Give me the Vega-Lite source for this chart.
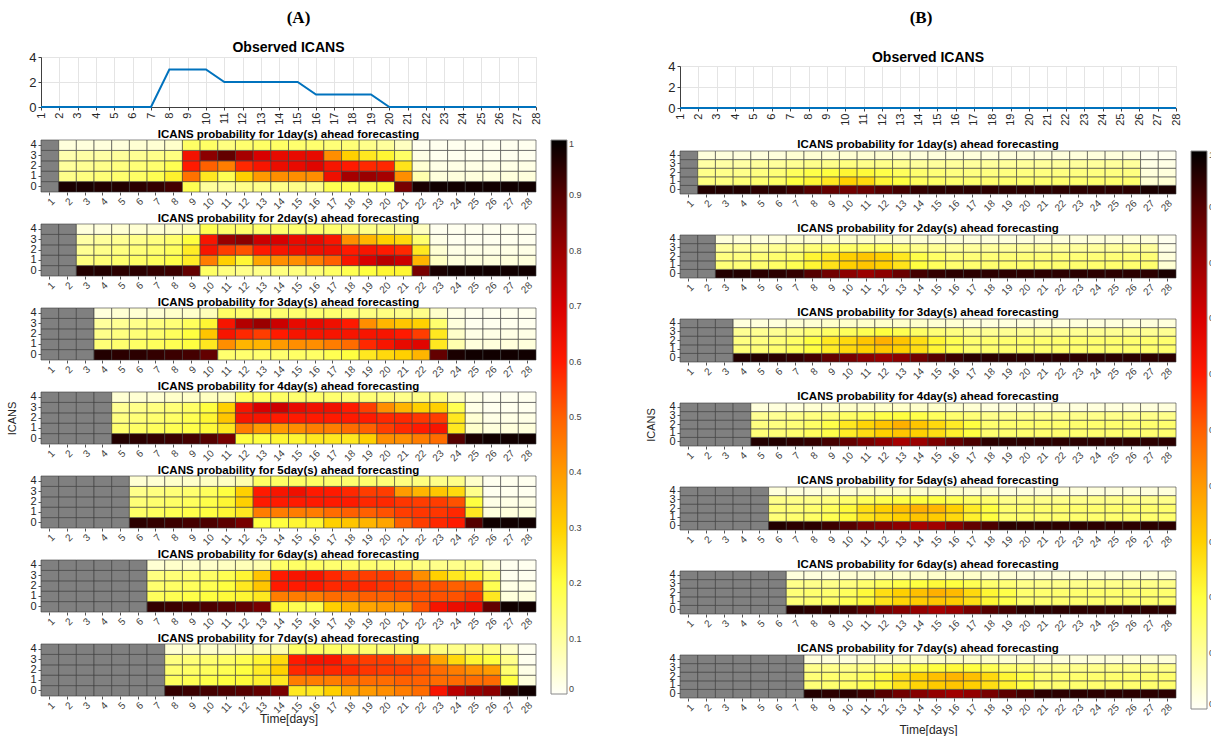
{
"$schema":"https://vega.github.io/schema/vega-lite/v6.json",
"background":"white",
"padding":{"left":6,"top":9,"right":0,"bottom":0},
"config":{"font":"Liberation Sans","view":{"stroke":null},
"title":{"fontSize":11.5,"fontWeight":"bold","color":"#000","offset":-2},
"rect":{"stroke":"#3a3a3a","strokeWidth":0.6},
"axisXBand":{"labelAngle":-45,"labelFontSize":10,"labelColor":"#444","tickSize":3,"tickColor":"#555","domain":false,"labelOverlap":false,"labelPadding":1,"titleFontWeight":"normal","titleFontSize":12,"titleColor":"#262626","titlePadding":1},
"axisYBand":{"labelAngle":0,"labelFontSize":11,"labelColor":"#262626","tickSize":3,"tickColor":"#555","domain":false,"labelOverlap":false,"labelPadding":2,"titleFontWeight":"normal","titleFontSize":11,"titleColor":"#262626","titlePadding":12},
"axisQuantitative":{"grid":true,"gridColor":"#e4e4e4","tickSize":3,"labelPadding":2,"labelColor":"#262626","domainColor":"#404040","tickColor":"#404040","title":null},
"legend":{"gradientThickness":16,"labelFontSize":9,"labelColor":"#444","gradientStrokeColor":"#888","gradientStrokeWidth":1,"offset":14,"padding":0}
},
"datasets":{
"obsA":[{"d":1,"v":0},{"d":2,"v":0},{"d":3,"v":0},{"d":4,"v":0},{"d":5,"v":0},{"d":6,"v":0},{"d":7,"v":0},{"d":8,"v":3},{"d":9,"v":3},{"d":10,"v":3},{"d":11,"v":2},{"d":12,"v":2},{"d":13,"v":2},{"d":14,"v":2},{"d":15,"v":2},{"d":16,"v":1},{"d":17,"v":1},{"d":18,"v":1},{"d":19,"v":1},{"d":20,"v":0},{"d":21,"v":0},{"d":22,"v":0},{"d":23,"v":0},{"d":24,"v":0},{"d":25,"v":0},{"d":26,"v":0},{"d":27,"v":0},{"d":28,"v":0}],
"obsB":[{"d":1,"v":0},{"d":2,"v":0},{"d":3,"v":0},{"d":4,"v":0},{"d":5,"v":0},{"d":6,"v":0},{"d":7,"v":0},{"d":8,"v":0},{"d":9,"v":0},{"d":10,"v":0},{"d":11,"v":0},{"d":12,"v":0},{"d":13,"v":0},{"d":14,"v":0},{"d":15,"v":0},{"d":16,"v":0},{"d":17,"v":0},{"d":18,"v":0},{"d":19,"v":0},{"d":20,"v":0},{"d":21,"v":0},{"d":22,"v":0},{"d":23,"v":0},{"d":24,"v":0},{"d":25,"v":0},{"d":26,"v":0},{"d":27,"v":0},{"d":28,"v":0}],
"pA":[
{"h":1,"d":1},
{"h":1,"d":2,"0":0.97,"1":0.12,"2":0.10,"3":0.08,"4":0.03},
{"h":1,"d":3,"0":0.97,"1":0.13,"2":0.11,"3":0.09,"4":0.03},
{"h":1,"d":4,"0":0.96,"1":0.14,"2":0.12,"3":0.09,"4":0.03},
{"h":1,"d":5,"0":0.96,"1":0.15,"2":0.13,"3":0.10,"4":0.03},
{"h":1,"d":6,"0":0.95,"1":0.16,"2":0.14,"3":0.11,"4":0.04},
{"h":1,"d":7,"0":0.94,"1":0.18,"2":0.15,"3":0.12,"4":0.04},
{"h":1,"d":8,"0":0.92,"1":0.23,"2":0.18,"3":0.13,"4":0.05},
{"h":1,"d":9,"0":0.18,"1":0.47,"2":0.60,"3":0.63,"4":0.16},
{"h":1,"d":10,"0":0.10,"1":0.25,"2":0.50,"3":0.82,"4":0.16},
{"h":1,"d":11,"0":0.10,"1":0.18,"2":0.45,"3":0.88,"4":0.13},
{"h":1,"d":12,"0":0.12,"1":0.30,"2":0.58,"3":0.78,"4":0.15},
{"h":1,"d":13,"0":0.12,"1":0.40,"2":0.62,"3":0.70,"4":0.16},
{"h":1,"d":14,"0":0.12,"1":0.42,"2":0.65,"3":0.66,"4":0.16},
{"h":1,"d":15,"0":0.12,"1":0.42,"2":0.66,"3":0.66,"4":0.15},
{"h":1,"d":16,"0":0.12,"1":0.42,"2":0.68,"3":0.66,"4":0.15},
{"h":1,"d":17,"0":0.18,"1":0.64,"2":0.62,"3":0.42,"4":0.14},
{"h":1,"d":18,"0":0.18,"1":0.78,"2":0.60,"3":0.30,"4":0.14},
{"h":1,"d":19,"0":0.18,"1":0.80,"2":0.58,"3":0.25,"4":0.12},
{"h":1,"d":20,"0":0.20,"1":0.78,"2":0.58,"3":0.22,"4":0.10},
{"h":1,"d":21,"0":0.85,"1":0.42,"2":0.26,"3":0.16,"4":0.06},
{"h":1,"d":22,"0":0.97,"1":0.08,"2":0.04,"3":0.02,"4":0.01},
{"h":1,"d":23,"0":0.98,"1":0.03,"2":0.02,"3":0.01,"4":0.01},
{"h":1,"d":24,"0":0.98,"1":0.03,"2":0.02,"3":0.01,"4":0.01},
{"h":1,"d":25,"0":0.98,"1":0.03,"2":0.02,"3":0.01,"4":0.01},
{"h":1,"d":26,"0":0.98,"1":0.03,"2":0.02,"3":0.01,"4":0.01},
{"h":1,"d":27,"0":0.98,"1":0.03,"2":0.02,"3":0.01,"4":0.01},
{"h":1,"d":28,"0":0.98,"1":0.03,"2":0.02,"3":0.01,"4":0.01},
{"h":2,"d":1},{"h":2,"d":2},
{"h":2,"d":3,"0":0.96,"1":0.13,"2":0.11,"3":0.09,"4":0.03},
{"h":2,"d":4,"0":0.96,"1":0.14,"2":0.12,"3":0.10,"4":0.03},
{"h":2,"d":5,"0":0.95,"1":0.15,"2":0.13,"3":0.11,"4":0.04},
{"h":2,"d":6,"0":0.95,"1":0.16,"2":0.14,"3":0.12,"4":0.04},
{"h":2,"d":7,"0":0.94,"1":0.17,"2":0.15,"3":0.13,"4":0.04},
{"h":2,"d":8,"0":0.93,"1":0.19,"2":0.17,"3":0.15,"4":0.05},
{"h":2,"d":9,"0":0.88,"1":0.24,"2":0.24,"3":0.20,"4":0.06},
{"h":2,"d":10,"0":0.16,"1":0.45,"2":0.62,"3":0.62,"4":0.18},
{"h":2,"d":11,"0":0.13,"1":0.30,"2":0.55,"3":0.80,"4":0.15},
{"h":2,"d":12,"0":0.12,"1":0.22,"2":0.52,"3":0.82,"4":0.15},
{"h":2,"d":13,"0":0.12,"1":0.38,"2":0.60,"3":0.72,"4":0.15},
{"h":2,"d":14,"0":0.13,"1":0.42,"2":0.62,"3":0.70,"4":0.15},
{"h":2,"d":15,"0":0.13,"1":0.42,"2":0.64,"3":0.66,"4":0.15},
{"h":2,"d":16,"0":0.14,"1":0.45,"2":0.64,"3":0.66,"4":0.15},
{"h":2,"d":17,"0":0.16,"1":0.50,"2":0.64,"3":0.62,"4":0.15},
{"h":2,"d":18,"0":0.18,"1":0.62,"2":0.60,"3":0.42,"4":0.13},
{"h":2,"d":19,"0":0.20,"1":0.70,"2":0.62,"3":0.35,"4":0.12},
{"h":2,"d":20,"0":0.22,"1":0.75,"2":0.60,"3":0.30,"4":0.12},
{"h":2,"d":21,"0":0.22,"1":0.72,"2":0.58,"3":0.28,"4":0.10},
{"h":2,"d":22,"0":0.85,"1":0.35,"2":0.25,"3":0.15,"4":0.06},
{"h":2,"d":23,"0":0.97,"1":0.06,"2":0.04,"3":0.02,"4":0.01},
{"h":2,"d":24,"0":0.98,"1":0.03,"2":0.02,"3":0.01,"4":0.01},
{"h":2,"d":25,"0":0.98,"1":0.03,"2":0.02,"3":0.01,"4":0.01},
{"h":2,"d":26,"0":0.98,"1":0.03,"2":0.02,"3":0.01,"4":0.01},
{"h":2,"d":27,"0":0.98,"1":0.03,"2":0.02,"3":0.01,"4":0.01},
{"h":2,"d":28,"0":0.98,"1":0.03,"2":0.02,"3":0.01,"4":0.01},
{"h":3,"d":1},{"h":3,"d":2},{"h":3,"d":3},
{"h":3,"d":4,"0":0.96,"1":0.14,"2":0.12,"3":0.10,"4":0.03},
{"h":3,"d":5,"0":0.95,"1":0.15,"2":0.13,"3":0.11,"4":0.04},
{"h":3,"d":6,"0":0.95,"1":0.16,"2":0.14,"3":0.12,"4":0.04},
{"h":3,"d":7,"0":0.94,"1":0.17,"2":0.15,"3":0.13,"4":0.04},
{"h":3,"d":8,"0":0.93,"1":0.18,"2":0.17,"3":0.14,"4":0.05},
{"h":3,"d":9,"0":0.92,"1":0.20,"2":0.20,"3":0.17,"4":0.05},
{"h":3,"d":10,"0":0.88,"1":0.25,"2":0.32,"3":0.22,"4":0.07},
{"h":3,"d":11,"0":0.15,"1":0.42,"2":0.62,"3":0.62,"4":0.16},
{"h":3,"d":12,"0":0.15,"1":0.35,"2":0.58,"3":0.76,"4":0.15},
{"h":3,"d":13,"0":0.15,"1":0.35,"2":0.55,"3":0.80,"4":0.15},
{"h":3,"d":14,"0":0.15,"1":0.40,"2":0.60,"3":0.72,"4":0.15},
{"h":3,"d":15,"0":0.16,"1":0.42,"2":0.62,"3":0.66,"4":0.15},
{"h":3,"d":16,"0":0.16,"1":0.42,"2":0.62,"3":0.66,"4":0.15},
{"h":3,"d":17,"0":0.18,"1":0.45,"2":0.62,"3":0.64,"4":0.15},
{"h":3,"d":18,"0":0.20,"1":0.48,"2":0.62,"3":0.60,"4":0.14},
{"h":3,"d":19,"0":0.25,"1":0.58,"2":0.62,"3":0.42,"4":0.13},
{"h":3,"d":20,"0":0.28,"1":0.62,"2":0.62,"3":0.35,"4":0.13},
{"h":3,"d":21,"0":0.30,"1":0.66,"2":0.60,"3":0.32,"4":0.12},
{"h":3,"d":22,"0":0.35,"1":0.68,"2":0.55,"3":0.30,"4":0.12},
{"h":3,"d":23,"0":0.88,"1":0.25,"2":0.25,"3":0.15,"4":0.05},
{"h":3,"d":24,"0":0.97,"1":0.08,"2":0.05,"3":0.03,"4":0.02},
{"h":3,"d":25,"0":0.98,"1":0.03,"2":0.02,"3":0.01,"4":0.01},
{"h":3,"d":26,"0":0.98,"1":0.03,"2":0.02,"3":0.01,"4":0.01},
{"h":3,"d":27,"0":0.98,"1":0.03,"2":0.02,"3":0.01,"4":0.01},
{"h":3,"d":28,"0":0.98,"1":0.03,"2":0.02,"3":0.01,"4":0.01},
{"h":4,"d":1},{"h":4,"d":2},{"h":4,"d":3},{"h":4,"d":4},
{"h":4,"d":5,"0":0.96,"1":0.15,"2":0.13,"3":0.11,"4":0.04},
{"h":4,"d":6,"0":0.95,"1":0.16,"2":0.14,"3":0.12,"4":0.04},
{"h":4,"d":7,"0":0.94,"1":0.17,"2":0.15,"3":0.13,"4":0.04},
{"h":4,"d":8,"0":0.93,"1":0.18,"2":0.16,"3":0.14,"4":0.05},
{"h":4,"d":9,"0":0.92,"1":0.19,"2":0.18,"3":0.16,"4":0.05},
{"h":4,"d":10,"0":0.90,"1":0.21,"2":0.22,"3":0.20,"4":0.06},
{"h":4,"d":11,"0":0.85,"1":0.25,"2":0.32,"3":0.30,"4":0.07},
{"h":4,"d":12,"0":0.20,"1":0.45,"2":0.62,"3":0.62,"4":0.16},
{"h":4,"d":13,"0":0.20,"1":0.40,"2":0.62,"3":0.70,"4":0.16},
{"h":4,"d":14,"0":0.22,"1":0.40,"2":0.60,"3":0.72,"4":0.16},
{"h":4,"d":15,"0":0.22,"1":0.42,"2":0.60,"3":0.66,"4":0.15},
{"h":4,"d":16,"0":0.25,"1":0.45,"2":0.60,"3":0.64,"4":0.15},
{"h":4,"d":17,"0":0.25,"1":0.45,"2":0.60,"3":0.64,"4":0.15},
{"h":4,"d":18,"0":0.25,"1":0.48,"2":0.60,"3":0.60,"4":0.14},
{"h":4,"d":19,"0":0.30,"1":0.50,"2":0.60,"3":0.55,"4":0.14},
{"h":4,"d":20,"0":0.42,"1":0.55,"2":0.58,"3":0.42,"4":0.13},
{"h":4,"d":21,"0":0.42,"1":0.58,"2":0.58,"3":0.35,"4":0.12},
{"h":4,"d":22,"0":0.45,"1":0.60,"2":0.56,"3":0.30,"4":0.12},
{"h":4,"d":23,"0":0.48,"1":0.62,"2":0.55,"3":0.30,"4":0.12},
{"h":4,"d":24,"0":0.90,"1":0.25,"2":0.25,"3":0.18,"4":0.05},
{"h":4,"d":25,"0":0.97,"1":0.05,"2":0.04,"3":0.02,"4":0.02},
{"h":4,"d":26,"0":0.98,"1":0.03,"2":0.02,"3":0.01,"4":0.01},
{"h":4,"d":27,"0":0.98,"1":0.03,"2":0.02,"3":0.01,"4":0.01},
{"h":4,"d":28,"0":0.98,"1":0.03,"2":0.02,"3":0.01,"4":0.01},
{"h":5,"d":1},{"h":5,"d":2},{"h":5,"d":3},{"h":5,"d":4},{"h":5,"d":5},
{"h":5,"d":6,"0":0.95,"1":0.16,"2":0.14,"3":0.12,"4":0.04},
{"h":5,"d":7,"0":0.94,"1":0.17,"2":0.15,"3":0.13,"4":0.04},
{"h":5,"d":8,"0":0.93,"1":0.18,"2":0.16,"3":0.14,"4":0.05},
{"h":5,"d":9,"0":0.92,"1":0.19,"2":0.17,"3":0.15,"4":0.05},
{"h":5,"d":10,"0":0.91,"1":0.20,"2":0.19,"3":0.17,"4":0.06},
{"h":5,"d":11,"0":0.89,"1":0.22,"2":0.22,"3":0.20,"4":0.06},
{"h":5,"d":12,"0":0.85,"1":0.25,"2":0.30,"3":0.30,"4":0.08},
{"h":5,"d":13,"0":0.20,"1":0.45,"2":0.60,"3":0.60,"4":0.16},
{"h":5,"d":14,"0":0.20,"1":0.45,"2":0.60,"3":0.62,"4":0.16},
{"h":5,"d":15,"0":0.22,"1":0.45,"2":0.60,"3":0.64,"4":0.16},
{"h":5,"d":16,"0":0.22,"1":0.45,"2":0.60,"3":0.60,"4":0.16},
{"h":5,"d":17,"0":0.30,"1":0.48,"2":0.60,"3":0.60,"4":0.15},
{"h":5,"d":18,"0":0.32,"1":0.50,"2":0.60,"3":0.58,"4":0.15},
{"h":5,"d":19,"0":0.35,"1":0.50,"2":0.58,"3":0.55,"4":0.15},
{"h":5,"d":20,"0":0.38,"1":0.52,"2":0.58,"3":0.55,"4":0.14},
{"h":5,"d":21,"0":0.50,"1":0.55,"2":0.56,"3":0.40,"4":0.13},
{"h":5,"d":22,"0":0.55,"1":0.56,"2":0.55,"3":0.35,"4":0.13},
{"h":5,"d":23,"0":0.58,"1":0.56,"2":0.55,"3":0.32,"4":0.12},
{"h":5,"d":24,"0":0.60,"1":0.58,"2":0.52,"3":0.28,"4":0.12},
{"h":5,"d":25,"0":0.90,"1":0.25,"2":0.20,"3":0.12,"4":0.05},
{"h":5,"d":26,"0":0.98,"1":0.03,"2":0.02,"3":0.01,"4":0.01},
{"h":5,"d":27,"0":0.98,"1":0.03,"2":0.02,"3":0.01,"4":0.01},
{"h":5,"d":28,"0":0.98,"1":0.03,"2":0.02,"3":0.01,"4":0.01},
{"h":6,"d":1},{"h":6,"d":2},{"h":6,"d":3},{"h":6,"d":4},{"h":6,"d":5},{"h":6,"d":6},
{"h":6,"d":7,"0":0.94,"1":0.17,"2":0.15,"3":0.13,"4":0.04},
{"h":6,"d":8,"0":0.93,"1":0.18,"2":0.16,"3":0.14,"4":0.05},
{"h":6,"d":9,"0":0.92,"1":0.19,"2":0.17,"3":0.15,"4":0.05},
{"h":6,"d":10,"0":0.91,"1":0.20,"2":0.18,"3":0.16,"4":0.05},
{"h":6,"d":11,"0":0.90,"1":0.21,"2":0.20,"3":0.18,"4":0.06},
{"h":6,"d":12,"0":0.88,"1":0.22,"2":0.25,"3":0.22,"4":0.07},
{"h":6,"d":13,"0":0.85,"1":0.25,"2":0.32,"3":0.32,"4":0.08},
{"h":6,"d":14,"0":0.22,"1":0.45,"2":0.60,"3":0.60,"4":0.16},
{"h":6,"d":15,"0":0.18,"1":0.45,"2":0.60,"3":0.62,"4":0.16},
{"h":6,"d":16,"0":0.18,"1":0.45,"2":0.60,"3":0.62,"4":0.16},
{"h":6,"d":17,"0":0.30,"1":0.48,"2":0.58,"3":0.58,"4":0.15},
{"h":6,"d":18,"0":0.35,"1":0.48,"2":0.58,"3":0.55,"4":0.15},
{"h":6,"d":19,"0":0.38,"1":0.50,"2":0.58,"3":0.55,"4":0.15},
{"h":6,"d":20,"0":0.40,"1":0.50,"2":0.56,"3":0.55,"4":0.14},
{"h":6,"d":21,"0":0.40,"1":0.52,"2":0.55,"3":0.52,"4":0.14},
{"h":6,"d":22,"0":0.52,"1":0.52,"2":0.52,"3":0.42,"4":0.13},
{"h":6,"d":23,"0":0.62,"1":0.52,"2":0.52,"3":0.30,"4":0.12},
{"h":6,"d":24,"0":0.65,"1":0.52,"2":0.50,"3":0.25,"4":0.12},
{"h":6,"d":25,"0":0.66,"1":0.55,"2":0.50,"3":0.22,"4":0.12},
{"h":6,"d":26,"0":0.88,"1":0.25,"2":0.18,"3":0.15,"4":0.05},
{"h":6,"d":27,"0":0.98,"1":0.03,"2":0.02,"3":0.01,"4":0.01},
{"h":6,"d":28,"0":0.98,"1":0.03,"2":0.02,"3":0.01,"4":0.01},
{"h":7,"d":1},{"h":7,"d":2},{"h":7,"d":3},{"h":7,"d":4},{"h":7,"d":5},{"h":7,"d":6},{"h":7,"d":7},
{"h":7,"d":8,"0":0.94,"1":0.17,"2":0.15,"3":0.13,"4":0.04},
{"h":7,"d":9,"0":0.93,"1":0.18,"2":0.16,"3":0.14,"4":0.05},
{"h":7,"d":10,"0":0.92,"1":0.19,"2":0.17,"3":0.15,"4":0.05},
{"h":7,"d":11,"0":0.91,"1":0.20,"2":0.18,"3":0.16,"4":0.05},
{"h":7,"d":12,"0":0.90,"1":0.21,"2":0.20,"3":0.18,"4":0.06},
{"h":7,"d":13,"0":0.88,"1":0.23,"2":0.24,"3":0.22,"4":0.07},
{"h":7,"d":14,"0":0.85,"1":0.25,"2":0.30,"3":0.28,"4":0.08},
{"h":7,"d":15,"0":0.25,"1":0.45,"2":0.58,"3":0.60,"4":0.16},
{"h":7,"d":16,"0":0.25,"1":0.45,"2":0.58,"3":0.62,"4":0.16},
{"h":7,"d":17,"0":0.30,"1":0.45,"2":0.58,"3":0.62,"4":0.16},
{"h":7,"d":18,"0":0.38,"1":0.48,"2":0.58,"3":0.56,"4":0.15},
{"h":7,"d":19,"0":0.40,"1":0.48,"2":0.56,"3":0.55,"4":0.15},
{"h":7,"d":20,"0":0.42,"1":0.48,"2":0.55,"3":0.55,"4":0.14},
{"h":7,"d":21,"0":0.45,"1":0.50,"2":0.55,"3":0.52,"4":0.14},
{"h":7,"d":22,"0":0.48,"1":0.50,"2":0.52,"3":0.52,"4":0.14},
{"h":7,"d":23,"0":0.62,"1":0.48,"2":0.48,"3":0.38,"4":0.13},
{"h":7,"d":24,"0":0.75,"1":0.48,"2":0.45,"3":0.28,"4":0.12},
{"h":7,"d":25,"0":0.80,"1":0.48,"2":0.42,"3":0.22,"4":0.12},
{"h":7,"d":26,"0":0.82,"1":0.48,"2":0.40,"3":0.20,"4":0.12},
{"h":7,"d":27,"0":0.95,"1":0.20,"2":0.15,"3":0.12,"4":0.05},
{"h":7,"d":28,"0":0.98,"1":0.03,"2":0.02,"3":0.01,"4":0.01}
],
"pB":[
{"h":1,"d":1},
{"h":1,"d":2,"0":0.96,"1":0.13,"2":0.12,"3":0.09,"4":0.03},
{"h":1,"d":3,"0":0.96,"1":0.13,"2":0.12,"3":0.09,"4":0.03},
{"h":1,"d":4,"0":0.96,"1":0.14,"2":0.12,"3":0.09,"4":0.03},
{"h":1,"d":5,"0":0.95,"1":0.15,"2":0.13,"3":0.10,"4":0.03},
{"h":1,"d":6,"0":0.95,"1":0.16,"2":0.14,"3":0.10,"4":0.03},
{"h":1,"d":7,"0":0.93,"1":0.20,"2":0.17,"3":0.11,"4":0.04},
{"h":1,"d":8,"0":0.90,"1":0.22,"2":0.19,"3":0.12,"4":0.04},
{"h":1,"d":9,"0":0.88,"1":0.25,"2":0.20,"3":0.12,"4":0.04},
{"h":1,"d":10,"0":0.86,"1":0.30,"2":0.22,"3":0.13,"4":0.04},
{"h":1,"d":11,"0":0.87,"1":0.28,"2":0.21,"3":0.12,"4":0.04},
{"h":1,"d":12,"0":0.90,"1":0.22,"2":0.19,"3":0.12,"4":0.04},
{"h":1,"d":13,"0":0.92,"1":0.20,"2":0.17,"3":0.11,"4":0.04},
{"h":1,"d":14,"0":0.94,"1":0.17,"2":0.15,"3":0.10,"4":0.03},
{"h":1,"d":15,"0":0.95,"1":0.16,"2":0.14,"3":0.10,"4":0.03},
{"h":1,"d":16,"0":0.95,"1":0.15,"2":0.13,"3":0.10,"4":0.03},
{"h":1,"d":17,"0":0.95,"1":0.15,"2":0.13,"3":0.10,"4":0.03},
{"h":1,"d":18,"0":0.95,"1":0.15,"2":0.13,"3":0.10,"4":0.03},
{"h":1,"d":19,"0":0.95,"1":0.15,"2":0.13,"3":0.10,"4":0.03},
{"h":1,"d":20,"0":0.95,"1":0.15,"2":0.13,"3":0.10,"4":0.03},
{"h":1,"d":21,"0":0.95,"1":0.15,"2":0.13,"3":0.10,"4":0.03},
{"h":1,"d":22,"0":0.95,"1":0.15,"2":0.13,"3":0.10,"4":0.03},
{"h":1,"d":23,"0":0.95,"1":0.15,"2":0.13,"3":0.10,"4":0.03},
{"h":1,"d":24,"0":0.95,"1":0.15,"2":0.13,"3":0.10,"4":0.03},
{"h":1,"d":25,"0":0.95,"1":0.15,"2":0.13,"3":0.10,"4":0.03},
{"h":1,"d":26,"0":0.95,"1":0.15,"2":0.13,"3":0.10,"4":0.03},
{"h":1,"d":27,"0":0.97,"1":0.04,"2":0.03,"3":0.02,"4":0.01},
{"h":1,"d":28,"0":0.97,"1":0.04,"2":0.03,"3":0.02,"4":0.01},
{"h":2,"d":1},{"h":2,"d":2},
{"h":2,"d":3,"0":0.96,"1":0.14,"2":0.13,"3":0.10,"4":0.03},
{"h":2,"d":4,"0":0.96,"1":0.14,"2":0.13,"3":0.10,"4":0.03},
{"h":2,"d":5,"0":0.95,"1":0.15,"2":0.14,"3":0.10,"4":0.03},
{"h":2,"d":6,"0":0.95,"1":0.16,"2":0.15,"3":0.11,"4":0.03},
{"h":2,"d":7,"0":0.94,"1":0.18,"2":0.16,"3":0.12,"4":0.04},
{"h":2,"d":8,"0":0.90,"1":0.22,"2":0.22,"3":0.14,"4":0.04},
{"h":2,"d":9,"0":0.86,"1":0.26,"2":0.25,"3":0.15,"4":0.04},
{"h":2,"d":10,"0":0.82,"1":0.30,"2":0.30,"3":0.16,"4":0.05},
{"h":2,"d":11,"0":0.80,"1":0.32,"2":0.32,"3":0.16,"4":0.05},
{"h":2,"d":12,"0":0.82,"1":0.30,"2":0.30,"3":0.16,"4":0.05},
{"h":2,"d":13,"0":0.87,"1":0.26,"2":0.25,"3":0.14,"4":0.04},
{"h":2,"d":14,"0":0.92,"1":0.20,"2":0.19,"3":0.12,"4":0.04},
{"h":2,"d":15,"0":0.94,"1":0.17,"2":0.16,"3":0.11,"4":0.03},
{"h":2,"d":16,"0":0.95,"1":0.15,"2":0.14,"3":0.10,"4":0.03},
{"h":2,"d":17,"0":0.95,"1":0.15,"2":0.14,"3":0.10,"4":0.03},
{"h":2,"d":18,"0":0.95,"1":0.15,"2":0.14,"3":0.10,"4":0.03},
{"h":2,"d":19,"0":0.95,"1":0.15,"2":0.14,"3":0.10,"4":0.03},
{"h":2,"d":20,"0":0.95,"1":0.15,"2":0.14,"3":0.10,"4":0.03},
{"h":2,"d":21,"0":0.95,"1":0.15,"2":0.14,"3":0.10,"4":0.03},
{"h":2,"d":22,"0":0.95,"1":0.15,"2":0.14,"3":0.10,"4":0.03},
{"h":2,"d":23,"0":0.95,"1":0.15,"2":0.14,"3":0.10,"4":0.03},
{"h":2,"d":24,"0":0.95,"1":0.15,"2":0.14,"3":0.10,"4":0.03},
{"h":2,"d":25,"0":0.95,"1":0.15,"2":0.14,"3":0.10,"4":0.03},
{"h":2,"d":26,"0":0.95,"1":0.15,"2":0.14,"3":0.10,"4":0.03},
{"h":2,"d":27,"0":0.95,"1":0.15,"2":0.14,"3":0.10,"4":0.03},
{"h":2,"d":28,"0":0.97,"1":0.04,"2":0.03,"3":0.02,"4":0.01},
{"h":3,"d":1},{"h":3,"d":2},{"h":3,"d":3},
{"h":3,"d":4,"0":0.96,"1":0.14,"2":0.13,"3":0.11,"4":0.03},
{"h":3,"d":5,"0":0.96,"1":0.14,"2":0.13,"3":0.11,"4":0.03},
{"h":3,"d":6,"0":0.95,"1":0.15,"2":0.14,"3":0.11,"4":0.03},
{"h":3,"d":7,"0":0.94,"1":0.17,"2":0.16,"3":0.12,"4":0.04},
{"h":3,"d":8,"0":0.92,"1":0.20,"2":0.20,"3":0.14,"4":0.04},
{"h":3,"d":9,"0":0.88,"1":0.24,"2":0.25,"3":0.16,"4":0.05},
{"h":3,"d":10,"0":0.85,"1":0.28,"2":0.28,"3":0.17,"4":0.05},
{"h":3,"d":11,"0":0.82,"1":0.30,"2":0.32,"3":0.18,"4":0.05},
{"h":3,"d":12,"0":0.80,"1":0.32,"2":0.36,"3":0.20,"4":0.05},
{"h":3,"d":13,"0":0.82,"1":0.30,"2":0.32,"3":0.18,"4":0.05},
{"h":3,"d":14,"0":0.86,"1":0.27,"2":0.27,"3":0.16,"4":0.05},
{"h":3,"d":15,"0":0.90,"1":0.22,"2":0.22,"3":0.14,"4":0.04},
{"h":3,"d":16,"0":0.93,"1":0.18,"2":0.18,"3":0.13,"4":0.04},
{"h":3,"d":17,"0":0.95,"1":0.15,"2":0.15,"3":0.11,"4":0.03},
{"h":3,"d":18,"0":0.95,"1":0.15,"2":0.15,"3":0.11,"4":0.03},
{"h":3,"d":19,"0":0.95,"1":0.15,"2":0.15,"3":0.11,"4":0.03},
{"h":3,"d":20,"0":0.95,"1":0.15,"2":0.15,"3":0.11,"4":0.03},
{"h":3,"d":21,"0":0.95,"1":0.15,"2":0.15,"3":0.11,"4":0.03},
{"h":3,"d":22,"0":0.95,"1":0.15,"2":0.15,"3":0.11,"4":0.03},
{"h":3,"d":23,"0":0.95,"1":0.15,"2":0.15,"3":0.11,"4":0.03},
{"h":3,"d":24,"0":0.95,"1":0.15,"2":0.15,"3":0.11,"4":0.03},
{"h":3,"d":25,"0":0.95,"1":0.15,"2":0.15,"3":0.11,"4":0.03},
{"h":3,"d":26,"0":0.95,"1":0.15,"2":0.15,"3":0.11,"4":0.03},
{"h":3,"d":27,"0":0.95,"1":0.15,"2":0.15,"3":0.11,"4":0.03},
{"h":3,"d":28,"0":0.95,"1":0.15,"2":0.15,"3":0.11,"4":0.03},
{"h":4,"d":1},{"h":4,"d":2},{"h":4,"d":3},{"h":4,"d":4},
{"h":4,"d":5,"0":0.96,"1":0.14,"2":0.13,"3":0.11,"4":0.03},
{"h":4,"d":6,"0":0.96,"1":0.14,"2":0.13,"3":0.11,"4":0.03},
{"h":4,"d":7,"0":0.95,"1":0.15,"2":0.14,"3":0.12,"4":0.03},
{"h":4,"d":8,"0":0.94,"1":0.17,"2":0.16,"3":0.13,"4":0.04},
{"h":4,"d":9,"0":0.92,"1":0.19,"2":0.19,"3":0.14,"4":0.04},
{"h":4,"d":10,"0":0.88,"1":0.24,"2":0.25,"3":0.16,"4":0.05},
{"h":4,"d":11,"0":0.85,"1":0.27,"2":0.29,"3":0.17,"4":0.05},
{"h":4,"d":12,"0":0.82,"1":0.30,"2":0.32,"3":0.19,"4":0.05},
{"h":4,"d":13,"0":0.78,"1":0.32,"2":0.36,"3":0.20,"4":0.05},
{"h":4,"d":14,"0":0.80,"1":0.30,"2":0.32,"3":0.19,"4":0.05},
{"h":4,"d":15,"0":0.84,"1":0.27,"2":0.28,"3":0.17,"4":0.05},
{"h":4,"d":16,"0":0.88,"1":0.23,"2":0.24,"3":0.15,"4":0.04},
{"h":4,"d":17,"0":0.91,"1":0.20,"2":0.20,"3":0.14,"4":0.04},
{"h":4,"d":18,"0":0.95,"1":0.15,"2":0.15,"3":0.12,"4":0.03},
{"h":4,"d":19,"0":0.95,"1":0.15,"2":0.15,"3":0.12,"4":0.03},
{"h":4,"d":20,"0":0.95,"1":0.15,"2":0.15,"3":0.12,"4":0.03},
{"h":4,"d":21,"0":0.95,"1":0.15,"2":0.15,"3":0.12,"4":0.03},
{"h":4,"d":22,"0":0.95,"1":0.15,"2":0.15,"3":0.12,"4":0.03},
{"h":4,"d":23,"0":0.95,"1":0.15,"2":0.15,"3":0.12,"4":0.03},
{"h":4,"d":24,"0":0.95,"1":0.15,"2":0.15,"3":0.12,"4":0.03},
{"h":4,"d":25,"0":0.95,"1":0.15,"2":0.15,"3":0.12,"4":0.03},
{"h":4,"d":26,"0":0.95,"1":0.15,"2":0.15,"3":0.12,"4":0.03},
{"h":4,"d":27,"0":0.95,"1":0.15,"2":0.15,"3":0.12,"4":0.03},
{"h":4,"d":28,"0":0.95,"1":0.15,"2":0.15,"3":0.12,"4":0.03},
{"h":5,"d":1},{"h":5,"d":2},{"h":5,"d":3},{"h":5,"d":4},{"h":5,"d":5},
{"h":5,"d":6,"0":0.96,"1":0.14,"2":0.14,"3":0.12,"4":0.03},
{"h":5,"d":7,"0":0.95,"1":0.15,"2":0.14,"3":0.12,"4":0.03},
{"h":5,"d":8,"0":0.95,"1":0.16,"2":0.15,"3":0.12,"4":0.03},
{"h":5,"d":9,"0":0.93,"1":0.18,"2":0.17,"3":0.13,"4":0.04},
{"h":5,"d":10,"0":0.90,"1":0.21,"2":0.21,"3":0.15,"4":0.04},
{"h":5,"d":11,"0":0.86,"1":0.26,"2":0.27,"3":0.17,"4":0.05},
{"h":5,"d":12,"0":0.84,"1":0.28,"2":0.30,"3":0.18,"4":0.05},
{"h":5,"d":13,"0":0.82,"1":0.30,"2":0.33,"3":0.19,"4":0.05},
{"h":5,"d":14,"0":0.78,"1":0.32,"2":0.36,"3":0.20,"4":0.05},
{"h":5,"d":15,"0":0.79,"1":0.31,"2":0.35,"3":0.20,"4":0.05},
{"h":5,"d":16,"0":0.83,"1":0.28,"2":0.30,"3":0.18,"4":0.05},
{"h":5,"d":17,"0":0.88,"1":0.23,"2":0.24,"3":0.16,"4":0.04},
{"h":5,"d":18,"0":0.91,"1":0.20,"2":0.20,"3":0.15,"4":0.04},
{"h":5,"d":19,"0":0.95,"1":0.15,"2":0.15,"3":0.12,"4":0.03},
{"h":5,"d":20,"0":0.95,"1":0.15,"2":0.15,"3":0.12,"4":0.03},
{"h":5,"d":21,"0":0.95,"1":0.15,"2":0.15,"3":0.12,"4":0.03},
{"h":5,"d":22,"0":0.95,"1":0.15,"2":0.15,"3":0.12,"4":0.03},
{"h":5,"d":23,"0":0.95,"1":0.15,"2":0.15,"3":0.12,"4":0.03},
{"h":5,"d":24,"0":0.95,"1":0.15,"2":0.15,"3":0.12,"4":0.03},
{"h":5,"d":25,"0":0.95,"1":0.15,"2":0.15,"3":0.12,"4":0.03},
{"h":5,"d":26,"0":0.95,"1":0.15,"2":0.15,"3":0.12,"4":0.03},
{"h":5,"d":27,"0":0.95,"1":0.15,"2":0.15,"3":0.12,"4":0.03},
{"h":5,"d":28,"0":0.95,"1":0.15,"2":0.15,"3":0.12,"4":0.03},
{"h":6,"d":1},{"h":6,"d":2},{"h":6,"d":3},{"h":6,"d":4},{"h":6,"d":5},{"h":6,"d":6},
{"h":6,"d":7,"0":0.96,"1":0.14,"2":0.14,"3":0.12,"4":0.03},
{"h":6,"d":8,"0":0.95,"1":0.15,"2":0.15,"3":0.12,"4":0.03},
{"h":6,"d":9,"0":0.95,"1":0.16,"2":0.15,"3":0.12,"4":0.03},
{"h":6,"d":10,"0":0.93,"1":0.18,"2":0.17,"3":0.13,"4":0.04},
{"h":6,"d":11,"0":0.90,"1":0.21,"2":0.21,"3":0.15,"4":0.04},
{"h":6,"d":12,"0":0.85,"1":0.26,"2":0.27,"3":0.17,"4":0.05},
{"h":6,"d":13,"0":0.83,"1":0.29,"2":0.30,"3":0.19,"4":0.05},
{"h":6,"d":14,"0":0.81,"1":0.31,"2":0.33,"3":0.20,"4":0.05},
{"h":6,"d":15,"0":0.78,"1":0.32,"2":0.36,"3":0.21,"4":0.05},
{"h":6,"d":16,"0":0.80,"1":0.31,"2":0.34,"3":0.20,"4":0.05},
{"h":6,"d":17,"0":0.85,"1":0.27,"2":0.28,"3":0.18,"4":0.05},
{"h":6,"d":18,"0":0.90,"1":0.22,"2":0.22,"3":0.15,"4":0.04},
{"h":6,"d":19,"0":0.92,"1":0.19,"2":0.19,"3":0.14,"4":0.04},
{"h":6,"d":20,"0":0.95,"1":0.15,"2":0.15,"3":0.12,"4":0.03},
{"h":6,"d":21,"0":0.95,"1":0.15,"2":0.15,"3":0.12,"4":0.03},
{"h":6,"d":22,"0":0.95,"1":0.15,"2":0.15,"3":0.12,"4":0.03},
{"h":6,"d":23,"0":0.95,"1":0.15,"2":0.15,"3":0.12,"4":0.03},
{"h":6,"d":24,"0":0.95,"1":0.15,"2":0.15,"3":0.12,"4":0.03},
{"h":6,"d":25,"0":0.95,"1":0.15,"2":0.15,"3":0.12,"4":0.03},
{"h":6,"d":26,"0":0.95,"1":0.15,"2":0.15,"3":0.12,"4":0.03},
{"h":6,"d":27,"0":0.95,"1":0.15,"2":0.15,"3":0.12,"4":0.03},
{"h":6,"d":28,"0":0.95,"1":0.15,"2":0.15,"3":0.12,"4":0.03},
{"h":7,"d":1},{"h":7,"d":2},{"h":7,"d":3},{"h":7,"d":4},{"h":7,"d":5},{"h":7,"d":6},{"h":7,"d":7},
{"h":7,"d":8,"0":0.96,"1":0.14,"2":0.14,"3":0.12,"4":0.03},
{"h":7,"d":9,"0":0.95,"1":0.15,"2":0.15,"3":0.12,"4":0.03},
{"h":7,"d":10,"0":0.95,"1":0.16,"2":0.15,"3":0.12,"4":0.03},
{"h":7,"d":11,"0":0.93,"1":0.18,"2":0.17,"3":0.13,"4":0.04},
{"h":7,"d":12,"0":0.90,"1":0.21,"2":0.21,"3":0.15,"4":0.04},
{"h":7,"d":13,"0":0.86,"1":0.26,"2":0.27,"3":0.17,"4":0.05},
{"h":7,"d":14,"0":0.83,"1":0.29,"2":0.30,"3":0.19,"4":0.05},
{"h":7,"d":15,"0":0.81,"1":0.31,"2":0.33,"3":0.20,"4":0.05},
{"h":7,"d":16,"0":0.79,"1":0.32,"2":0.35,"3":0.21,"4":0.05},
{"h":7,"d":17,"0":0.81,"1":0.30,"2":0.33,"3":0.20,"4":0.05},
{"h":7,"d":18,"0":0.85,"1":0.27,"2":0.28,"3":0.18,"4":0.05},
{"h":7,"d":19,"0":0.89,"1":0.23,"2":0.22,"3":0.15,"4":0.04},
{"h":7,"d":20,"0":0.92,"1":0.19,"2":0.19,"3":0.14,"4":0.04},
{"h":7,"d":21,"0":0.95,"1":0.15,"2":0.15,"3":0.12,"4":0.03},
{"h":7,"d":22,"0":0.95,"1":0.15,"2":0.15,"3":0.12,"4":0.03},
{"h":7,"d":23,"0":0.95,"1":0.15,"2":0.15,"3":0.12,"4":0.03},
{"h":7,"d":24,"0":0.95,"1":0.15,"2":0.15,"3":0.12,"4":0.03},
{"h":7,"d":25,"0":0.95,"1":0.15,"2":0.15,"3":0.12,"4":0.03},
{"h":7,"d":26,"0":0.95,"1":0.15,"2":0.15,"3":0.12,"4":0.03},
{"h":7,"d":27,"0":0.95,"1":0.15,"2":0.15,"3":0.12,"4":0.03},
{"h":7,"d":28,"0":0.95,"1":0.15,"2":0.15,"3":0.12,"4":0.03}
]
},
"hconcat":[
{
"spacing":4,
"vconcat":[
{"data":{"values":[]},"mark":"point","width":495,"height":2,
"title":{"text":"(A)","font":"Liberation Serif","fontSize":17,"fontWeight":"bold","color":"#000","anchor":"middle","offset":7,"dx":10}},
{"data":{"name":"obsA"},"width":495,"height":50,"view":{"stroke":"#d8d8d8"},
"title":{"text":"Observed ICANS","fontSize":14,"fontWeight":"bold","color":"#000","offset":-4},
"mark":{"type":"line","color":"#0072BD","strokeWidth":2},
"encoding":{
"x":{"field":"d","type":"quantitative","scale":{"domain":[1,28],"nice":false,"zero":false},"axis":{"values":[1,2,3,4,5,6,7,8,9,10,11,12,13,14,15,16,17,18,19,20,21,22,23,24,25,26,27,28],"labelAngle":-90,"labelFontSize":11,"labelOverlap":false}},
"y":{"field":"v","type":"quantitative","scale":{"domain":[0,4],"nice":false},"axis":{"values":[0,2,4],"labelFontSize":13}}}},
{"data":{"name":"pA"},"spacing":2,
"vconcat":[
{"transform":[{"filter":"datum.h==1"},{"fold":["0","1","2","3","4"],"as":["lvl","p"]}],"title":"ICANS probability for 1day(s) ahead forecasting","width":495,"height":52,
"encoding":{"x":{"field":"d","type":"ordinal","title":null},"y":{"field":"lvl","type":"ordinal","sort":"descending","title":null}},
"layer":[{"transform":[{"filter":"datum.p == null"}],"mark":{"type":"rect","fill":"#808080"}},
{"transform":[{"filter":"datum.p != null"}],"mark":"rect","encoding":{"color":{"field":"p","type":"quantitative","title":null,"scale":{"domain":[0,0.1,0.2,0.3,0.4,0.5,0.6,0.7,0.8,0.9,1],"range":["#fffff8","#ffff9c","#ffff40","#ffd000","#ff9a00","#ff6000","#ff1a00","#d80000","#9a0000","#550000","#000000"],"interpolate":"rgb"},"legend":{"gradientLength":554,"values":[0,0.1,0.2,0.3,0.4,0.5,0.6,0.7,0.8,0.9,1],"format":"~g"}}}}]},
{"transform":[{"filter":"datum.h==2"},{"fold":["0","1","2","3","4"],"as":["lvl","p"]}],"title":"ICANS probability for 2day(s) ahead forecasting","width":495,"height":52,
"encoding":{"x":{"field":"d","type":"ordinal","title":null},"y":{"field":"lvl","type":"ordinal","sort":"descending","title":null}},
"layer":[{"transform":[{"filter":"datum.p == null"}],"mark":{"type":"rect","fill":"#808080"}},
{"transform":[{"filter":"datum.p != null"}],"mark":"rect","encoding":{"color":{"field":"p","type":"quantitative","title":null,"scale":{"domain":[0,0.1,0.2,0.3,0.4,0.5,0.6,0.7,0.8,0.9,1],"range":["#fffff8","#ffff9c","#ffff40","#ffd000","#ff9a00","#ff6000","#ff1a00","#d80000","#9a0000","#550000","#000000"],"interpolate":"rgb"},"legend":{"gradientLength":554,"values":[0,0.1,0.2,0.3,0.4,0.5,0.6,0.7,0.8,0.9,1],"format":"~g"}}}}]},
{"transform":[{"filter":"datum.h==3"},{"fold":["0","1","2","3","4"],"as":["lvl","p"]}],"title":"ICANS probability for 3day(s) ahead forecasting","width":495,"height":52,
"encoding":{"x":{"field":"d","type":"ordinal","title":null},"y":{"field":"lvl","type":"ordinal","sort":"descending","title":null}},
"layer":[{"transform":[{"filter":"datum.p == null"}],"mark":{"type":"rect","fill":"#808080"}},
{"transform":[{"filter":"datum.p != null"}],"mark":"rect","encoding":{"color":{"field":"p","type":"quantitative","title":null,"scale":{"domain":[0,0.1,0.2,0.3,0.4,0.5,0.6,0.7,0.8,0.9,1],"range":["#fffff8","#ffff9c","#ffff40","#ffd000","#ff9a00","#ff6000","#ff1a00","#d80000","#9a0000","#550000","#000000"],"interpolate":"rgb"},"legend":{"gradientLength":554,"values":[0,0.1,0.2,0.3,0.4,0.5,0.6,0.7,0.8,0.9,1],"format":"~g"}}}}]},
{"transform":[{"filter":"datum.h==4"},{"fold":["0","1","2","3","4"],"as":["lvl","p"]}],"title":"ICANS probability for 4day(s) ahead forecasting","width":495,"height":52,
"encoding":{"x":{"field":"d","type":"ordinal","title":null},"y":{"field":"lvl","type":"ordinal","sort":"descending","title":"ICANS"}},
"layer":[{"transform":[{"filter":"datum.p == null"}],"mark":{"type":"rect","fill":"#808080"}},
{"transform":[{"filter":"datum.p != null"}],"mark":"rect","encoding":{"color":{"field":"p","type":"quantitative","title":null,"scale":{"domain":[0,0.1,0.2,0.3,0.4,0.5,0.6,0.7,0.8,0.9,1],"range":["#fffff8","#ffff9c","#ffff40","#ffd000","#ff9a00","#ff6000","#ff1a00","#d80000","#9a0000","#550000","#000000"],"interpolate":"rgb"},"legend":{"gradientLength":554,"values":[0,0.1,0.2,0.3,0.4,0.5,0.6,0.7,0.8,0.9,1],"format":"~g"}}}}]},
{"transform":[{"filter":"datum.h==5"},{"fold":["0","1","2","3","4"],"as":["lvl","p"]}],"title":"ICANS probability for 5day(s) ahead forecasting","width":495,"height":52,
"encoding":{"x":{"field":"d","type":"ordinal","title":null},"y":{"field":"lvl","type":"ordinal","sort":"descending","title":null}},
"layer":[{"transform":[{"filter":"datum.p == null"}],"mark":{"type":"rect","fill":"#808080"}},
{"transform":[{"filter":"datum.p != null"}],"mark":"rect","encoding":{"color":{"field":"p","type":"quantitative","title":null,"scale":{"domain":[0,0.1,0.2,0.3,0.4,0.5,0.6,0.7,0.8,0.9,1],"range":["#fffff8","#ffff9c","#ffff40","#ffd000","#ff9a00","#ff6000","#ff1a00","#d80000","#9a0000","#550000","#000000"],"interpolate":"rgb"},"legend":{"gradientLength":554,"values":[0,0.1,0.2,0.3,0.4,0.5,0.6,0.7,0.8,0.9,1],"format":"~g"}}}}]},
{"transform":[{"filter":"datum.h==6"},{"fold":["0","1","2","3","4"],"as":["lvl","p"]}],"title":"ICANS probability for 6day(s) ahead forecasting","width":495,"height":52,
"encoding":{"x":{"field":"d","type":"ordinal","title":null},"y":{"field":"lvl","type":"ordinal","sort":"descending","title":null}},
"layer":[{"transform":[{"filter":"datum.p == null"}],"mark":{"type":"rect","fill":"#808080"}},
{"transform":[{"filter":"datum.p != null"}],"mark":"rect","encoding":{"color":{"field":"p","type":"quantitative","title":null,"scale":{"domain":[0,0.1,0.2,0.3,0.4,0.5,0.6,0.7,0.8,0.9,1],"range":["#fffff8","#ffff9c","#ffff40","#ffd000","#ff9a00","#ff6000","#ff1a00","#d80000","#9a0000","#550000","#000000"],"interpolate":"rgb"},"legend":{"gradientLength":554,"values":[0,0.1,0.2,0.3,0.4,0.5,0.6,0.7,0.8,0.9,1],"format":"~g"}}}}]},
{"transform":[{"filter":"datum.h==7"},{"fold":["0","1","2","3","4"],"as":["lvl","p"]}],"title":"ICANS probability for 7day(s) ahead forecasting","width":495,"height":52,
"encoding":{"x":{"field":"d","type":"ordinal","title":"Time[days]","axis":{"titlePadding":-1}},"y":{"field":"lvl","type":"ordinal","sort":"descending","title":null}},
"layer":[{"transform":[{"filter":"datum.p == null"}],"mark":{"type":"rect","fill":"#808080"}},
{"transform":[{"filter":"datum.p != null"}],"mark":"rect","encoding":{"color":{"field":"p","type":"quantitative","title":null,"scale":{"domain":[0,0.1,0.2,0.3,0.4,0.5,0.6,0.7,0.8,0.9,1],"range":["#fffff8","#ffff9c","#ffff40","#ffd000","#ff9a00","#ff6000","#ff1a00","#d80000","#9a0000","#550000","#000000"],"interpolate":"rgb"},"legend":{"gradientLength":554,"values":[0,0.1,0.2,0.3,0.4,0.5,0.6,0.7,0.8,0.9,1],"format":"~g"}}}}]}
]}
],
"resolve":{"scale":{"color":"independent"},"legend":{"color":"independent"}}
},
{
"spacing":13,
"vconcat":[
{"data":{"values":[]},"mark":"point","width":496,"height":3,
"title":{"text":"(B)","font":"Liberation Serif","fontSize":17,"fontWeight":"bold","color":"#000","anchor":"middle","offset":7,"dx":-7}},
{"data":{"name":"obsB"},"width":496,"height":42,"view":{"stroke":"#d8d8d8"},
"title":{"text":"Observed ICANS","fontSize":14,"fontWeight":"bold","color":"#000","offset":-5},
"mark":{"type":"line","color":"#0072BD","strokeWidth":2},
"encoding":{
"x":{"field":"d","type":"quantitative","scale":{"domain":[1,28],"nice":false,"zero":false},"axis":{"values":[1,2,3,4,5,6,7,8,9,10,11,12,13,14,15,16,17,18,19,20,21,22,23,24,25,26,27,28],"labelAngle":-90,"labelFontSize":11,"labelOverlap":false}},
"y":{"field":"v","type":"quantitative","scale":{"domain":[0,4],"nice":false},"axis":{"values":[0,2,4],"labelFontSize":13}}}},
{"data":{"name":"pB"},"spacing":10,
"vconcat":[
{"transform":[{"filter":"datum.h==1"},{"fold":["0","1","2","3","4"],"as":["lvl","p"]}],"title":"ICANS probability for 1day(s) ahead forecasting","width":496,"height":43,
"encoding":{"x":{"field":"d","type":"ordinal","title":null},"y":{"field":"lvl","type":"ordinal","sort":"descending","title":null}},
"layer":[{"transform":[{"filter":"datum.p == null"}],"mark":{"type":"rect","fill":"#808080"}},
{"transform":[{"filter":"datum.p != null"}],"mark":"rect","encoding":{"color":{"field":"p","type":"quantitative","title":null,"scale":{"domain":[0,0.1,0.2,0.3,0.4,0.5,0.6,0.7,0.8,0.9,1],"range":["#fffff8","#ffff9c","#ffff40","#ffd000","#ff9a00","#ff6000","#ff1a00","#d80000","#9a0000","#550000","#000000"],"interpolate":"rgb"},"legend":{"gradientLength":558,"values":[0,0.1,0.2,0.3,0.4,0.5,0.6,0.7,0.8,0.9,1],"format":"~g"}}}}]},
{"transform":[{"filter":"datum.h==2"},{"fold":["0","1","2","3","4"],"as":["lvl","p"]}],"title":"ICANS probability for 2day(s) ahead forecasting","width":496,"height":43,
"encoding":{"x":{"field":"d","type":"ordinal","title":null},"y":{"field":"lvl","type":"ordinal","sort":"descending","title":null}},
"layer":[{"transform":[{"filter":"datum.p == null"}],"mark":{"type":"rect","fill":"#808080"}},
{"transform":[{"filter":"datum.p != null"}],"mark":"rect","encoding":{"color":{"field":"p","type":"quantitative","title":null,"scale":{"domain":[0,0.1,0.2,0.3,0.4,0.5,0.6,0.7,0.8,0.9,1],"range":["#fffff8","#ffff9c","#ffff40","#ffd000","#ff9a00","#ff6000","#ff1a00","#d80000","#9a0000","#550000","#000000"],"interpolate":"rgb"},"legend":{"gradientLength":558,"values":[0,0.1,0.2,0.3,0.4,0.5,0.6,0.7,0.8,0.9,1],"format":"~g"}}}}]},
{"transform":[{"filter":"datum.h==3"},{"fold":["0","1","2","3","4"],"as":["lvl","p"]}],"title":"ICANS probability for 3day(s) ahead forecasting","width":496,"height":43,
"encoding":{"x":{"field":"d","type":"ordinal","title":null},"y":{"field":"lvl","type":"ordinal","sort":"descending","title":null}},
"layer":[{"transform":[{"filter":"datum.p == null"}],"mark":{"type":"rect","fill":"#808080"}},
{"transform":[{"filter":"datum.p != null"}],"mark":"rect","encoding":{"color":{"field":"p","type":"quantitative","title":null,"scale":{"domain":[0,0.1,0.2,0.3,0.4,0.5,0.6,0.7,0.8,0.9,1],"range":["#fffff8","#ffff9c","#ffff40","#ffd000","#ff9a00","#ff6000","#ff1a00","#d80000","#9a0000","#550000","#000000"],"interpolate":"rgb"},"legend":{"gradientLength":558,"values":[0,0.1,0.2,0.3,0.4,0.5,0.6,0.7,0.8,0.9,1],"format":"~g"}}}}]},
{"transform":[{"filter":"datum.h==4"},{"fold":["0","1","2","3","4"],"as":["lvl","p"]}],"title":"ICANS probability for 4day(s) ahead forecasting","width":496,"height":43,
"encoding":{"x":{"field":"d","type":"ordinal","title":null},"y":{"field":"lvl","type":"ordinal","sort":"descending","title":"ICANS"}},
"layer":[{"transform":[{"filter":"datum.p == null"}],"mark":{"type":"rect","fill":"#808080"}},
{"transform":[{"filter":"datum.p != null"}],"mark":"rect","encoding":{"color":{"field":"p","type":"quantitative","title":null,"scale":{"domain":[0,0.1,0.2,0.3,0.4,0.5,0.6,0.7,0.8,0.9,1],"range":["#fffff8","#ffff9c","#ffff40","#ffd000","#ff9a00","#ff6000","#ff1a00","#d80000","#9a0000","#550000","#000000"],"interpolate":"rgb"},"legend":{"gradientLength":558,"values":[0,0.1,0.2,0.3,0.4,0.5,0.6,0.7,0.8,0.9,1],"format":"~g"}}}}]},
{"transform":[{"filter":"datum.h==5"},{"fold":["0","1","2","3","4"],"as":["lvl","p"]}],"title":"ICANS probability for 5day(s) ahead forecasting","width":496,"height":43,
"encoding":{"x":{"field":"d","type":"ordinal","title":null},"y":{"field":"lvl","type":"ordinal","sort":"descending","title":null}},
"layer":[{"transform":[{"filter":"datum.p == null"}],"mark":{"type":"rect","fill":"#808080"}},
{"transform":[{"filter":"datum.p != null"}],"mark":"rect","encoding":{"color":{"field":"p","type":"quantitative","title":null,"scale":{"domain":[0,0.1,0.2,0.3,0.4,0.5,0.6,0.7,0.8,0.9,1],"range":["#fffff8","#ffff9c","#ffff40","#ffd000","#ff9a00","#ff6000","#ff1a00","#d80000","#9a0000","#550000","#000000"],"interpolate":"rgb"},"legend":{"gradientLength":558,"values":[0,0.1,0.2,0.3,0.4,0.5,0.6,0.7,0.8,0.9,1],"format":"~g"}}}}]},
{"transform":[{"filter":"datum.h==6"},{"fold":["0","1","2","3","4"],"as":["lvl","p"]}],"title":"ICANS probability for 6day(s) ahead forecasting","width":496,"height":43,
"encoding":{"x":{"field":"d","type":"ordinal","title":null},"y":{"field":"lvl","type":"ordinal","sort":"descending","title":null}},
"layer":[{"transform":[{"filter":"datum.p == null"}],"mark":{"type":"rect","fill":"#808080"}},
{"transform":[{"filter":"datum.p != null"}],"mark":"rect","encoding":{"color":{"field":"p","type":"quantitative","title":null,"scale":{"domain":[0,0.1,0.2,0.3,0.4,0.5,0.6,0.7,0.8,0.9,1],"range":["#fffff8","#ffff9c","#ffff40","#ffd000","#ff9a00","#ff6000","#ff1a00","#d80000","#9a0000","#550000","#000000"],"interpolate":"rgb"},"legend":{"gradientLength":558,"values":[0,0.1,0.2,0.3,0.4,0.5,0.6,0.7,0.8,0.9,1],"format":"~g"}}}}]},
{"transform":[{"filter":"datum.h==7"},{"fold":["0","1","2","3","4"],"as":["lvl","p"]}],"title":"ICANS probability for 7day(s) ahead forecasting","width":496,"height":43,
"encoding":{"x":{"field":"d","type":"ordinal","title":"Time[days]","axis":{"titlePadding":8}},"y":{"field":"lvl","type":"ordinal","sort":"descending","title":null}},
"layer":[{"transform":[{"filter":"datum.p == null"}],"mark":{"type":"rect","fill":"#808080"}},
{"transform":[{"filter":"datum.p != null"}],"mark":"rect","encoding":{"color":{"field":"p","type":"quantitative","title":null,"scale":{"domain":[0,0.1,0.2,0.3,0.4,0.5,0.6,0.7,0.8,0.9,1],"range":["#fffff8","#ffff9c","#ffff40","#ffd000","#ff9a00","#ff6000","#ff1a00","#d80000","#9a0000","#550000","#000000"],"interpolate":"rgb"},"legend":{"gradientLength":558,"values":[0,0.1,0.2,0.3,0.4,0.5,0.6,0.7,0.8,0.9,1],"format":"~g"}}}}]}
]}
],
"resolve":{"scale":{"color":"independent"},"legend":{"color":"independent"}}
}
],
"spacing":63,
"resolve":{"scale":{"color":"independent"},"legend":{"color":"independent"}}
}
